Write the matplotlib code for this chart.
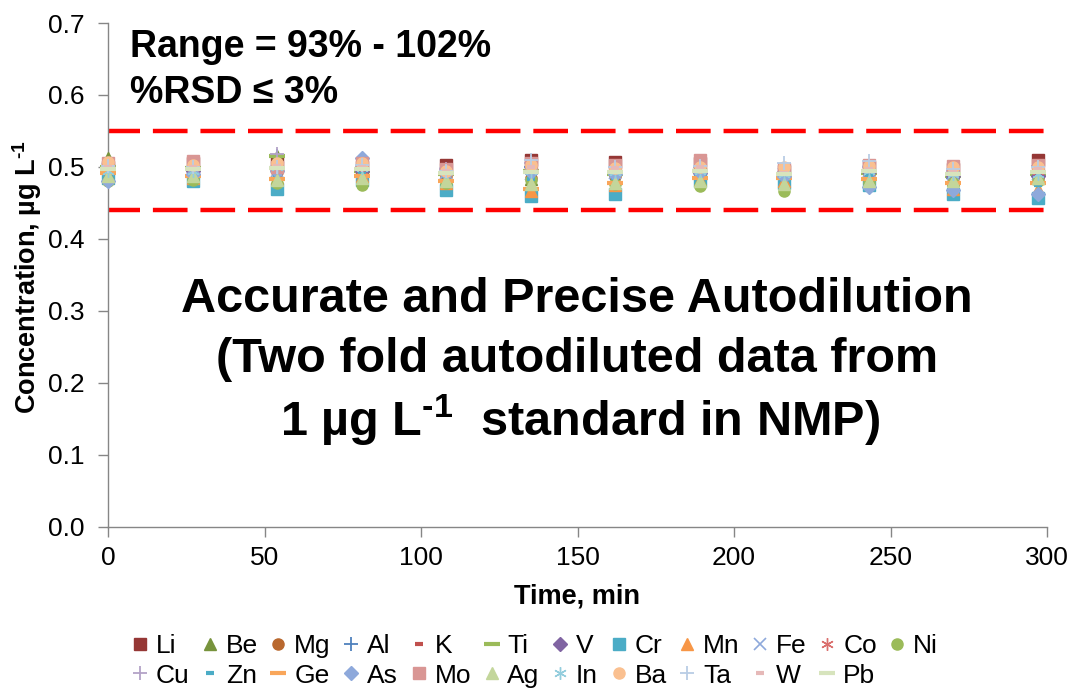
import matplotlib
matplotlib.use("Agg")
import matplotlib.pyplot as plt
from matplotlib.lines import Line2D

plt.rcParams['font.family'] = ['Liberation Sans', 'DejaVu Sans']
plt.rcParams['mathtext.fontset'] = 'custom'
plt.rcParams['mathtext.rm'] = 'Liberation Sans:bold'
plt.rcParams['mathtext.bf'] = 'Liberation Sans:bold'
plt.rcParams['mathtext.default'] = 'bf'

# ---------------- data ----------------
time_min = [0, 27, 54, 81, 108, 135, 162, 189, 216, 243, 270, 297]

elements = ["Li", "Be", "Mg", "Al", "K", "Ti", "V", "Cr", "Mn", "Fe", "Co", "Ni",
            "Cu", "Zn", "Ge", "As", "Mo", "Ag", "In", "Ba", "Ta", "W", "Pb"]

li = [0.500, 0.505, 0.508, 0.500, 0.503, 0.510, 0.507, 0.505, 0.495, 0.500, 0.497, 0.510]
be = [0.512, 0.495, 0.515, 0.500, 0.488, 0.483, 0.485, 0.490, 0.480, 0.490, 0.482, 0.485]
mg = [0.498, 0.497, 0.493, 0.495, 0.487, 0.485, 0.487, 0.492, 0.487, 0.490, 0.485, 0.485]
al = [0.495, 0.500, 0.515, 0.500, 0.490, 0.500, 0.495, 0.495, 0.490, 0.495, 0.485, 0.495]
k_ = [0.503, 0.502, 0.505, 0.502, 0.500, 0.507, 0.505, 0.503, 0.497, 0.500, 0.495, 0.505]
ti = [0.500, 0.498, 0.515, 0.495, 0.490, 0.495, 0.490, 0.495, 0.487, 0.492, 0.487, 0.490]
v_ = [0.493, 0.495, 0.497, 0.495, 0.492, 0.493, 0.493, 0.492, 0.490, 0.493, 0.488, 0.487]
cr = [0.485, 0.480, 0.470, 0.482, 0.468, 0.460, 0.463, 0.480, 0.478, 0.475, 0.463, 0.457]
mn = [0.487, 0.485, 0.485, 0.488, 0.478, 0.467, 0.475, 0.482, 0.480, 0.480, 0.470, 0.470]
fe = [0.497, 0.493, 0.495, 0.493, 0.492, 0.490, 0.492, 0.493, 0.490, 0.495, 0.490, 0.490]
co = [0.500, 0.497, 0.497, 0.495, 0.495, 0.497, 0.495, 0.497, 0.493, 0.497, 0.493, 0.495]
ni = [0.480, 0.482, 0.478, 0.475, 0.478, 0.482, 0.477, 0.473, 0.467, 0.478, 0.478, 0.480]
cu = [0.498, 0.500, 0.518, 0.502, 0.497, 0.505, 0.500, 0.500, 0.493, 0.500, 0.495, 0.502]
zn = [0.490, 0.490, 0.488, 0.490, 0.487, 0.483, 0.485, 0.490, 0.483, 0.487, 0.477, 0.475]
ge = [0.492, 0.488, 0.483, 0.488, 0.480, 0.470, 0.478, 0.485, 0.485, 0.483, 0.478, 0.478]
as_ = [0.480, 0.490, 0.495, 0.513, 0.492, 0.493, 0.490, 0.493, 0.487, 0.472, 0.468, 0.462]
mo = [0.505, 0.508, 0.500, 0.505, 0.497, 0.505, 0.503, 0.510, 0.497, 0.503, 0.502, 0.503]
ag = [0.488, 0.487, 0.482, 0.485, 0.480, 0.477, 0.478, 0.480, 0.477, 0.480, 0.480, 0.485]
in_ = [0.495, 0.495, 0.500, 0.498, 0.493, 0.495, 0.493, 0.495, 0.490, 0.495, 0.490, 0.490]
ba = [0.507, 0.503, 0.505, 0.505, 0.495, 0.503, 0.498, 0.500, 0.500, 0.502, 0.500, 0.500]
ta = [0.502, 0.500, 0.500, 0.503, 0.495, 0.510, 0.500, 0.502, 0.505, 0.508, 0.497, 0.500]
w_ = [0.500, 0.500, 0.502, 0.500, 0.495, 0.500, 0.498, 0.500, 0.492, 0.497, 0.493, 0.497]
pb = [0.497, 0.497, 0.498, 0.497, 0.492, 0.493, 0.493, 0.495, 0.490, 0.495, 0.490, 0.493]

series_values = [li, be, mg, al, k_, ti, v_, cr, mn, fe, co, ni,
                 cu, zn, ge, as_, mo, ag, in_, ba, ta, w_, pb]

upper_limit = 0.55
lower_limit = 0.44

x_ticks = [0, 50, 100, 150, 200, 250, 300]
y_ticks = [0.0, 0.1, 0.2, 0.3, 0.4, 0.5, 0.6, 0.7]

# ---------------- styles ----------------
ASTER = (6, 2, 0)
styles = {
    "Li": dict(marker='s', color='#953735', ms=8),
    "Be": dict(marker='^', color='#77933C', ms=9),
    "Mg": dict(marker='o', color='#B9682E', ms=8),
    "Al": dict(marker='+', color='#4F81BD', ms=10, mew=1.3),
    "K":  dict(marker='_', color='#C0504D', ms=6, mew=3),
    "Ti": dict(marker='_', color='#9BBB59', ms=11, mew=3),
    "V":  dict(marker='D', color='#8064A2', ms=7),
    "Cr": dict(marker='s', color='#4BACC6', ms=8),
    "Mn": dict(marker='^', color='#F79646', ms=9),
    "Fe": dict(marker='x', color='#8EA9DB', ms=8, mew=1.2),
    "Co": dict(marker=ASTER, color='#DA6F6D', ms=9, mew=1.0),
    "Ni": dict(marker='o', color='#9BBB59', ms=8),
    "Cu": dict(marker='+', color='#B3A2C7', ms=10, mew=1.3),
    "Zn": dict(marker='_', color='#4BACC6', ms=6, mew=3),
    "Ge": dict(marker='_', color='#F9A65A', ms=11, mew=3),
    "As": dict(marker='D', color='#8EA9DB', ms=7),
    "Mo": dict(marker='s', color='#D99694', ms=8),
    "Ag": dict(marker='^', color='#C3D69B', ms=9),
    "In": dict(marker=ASTER, color='#93CDDD', ms=9, mew=1.0),
    "Ba": dict(marker='o', color='#FAC090', ms=8),
    "Ta": dict(marker='+', color='#B9CDE5', ms=10, mew=1.3),
    "W":  dict(marker='_', color='#E6B9B8', ms=6, mew=3),
    "Pb": dict(marker='_', color='#D7E4BD', ms=11, mew=3),
}

fig = plt.figure(figsize=(10.75, 6.89), dpi=100)
ax = fig.add_axes([108/1075, 1-527/689, (1047-108)/1075, (527-23)/689])

for name, vals in zip(elements, series_values):
    st = styles[name]
    ax.plot(time_min, vals, linestyle='none', marker=st['marker'],
            color=st['color'], markersize=st['ms'],
            markeredgewidth=st.get('mew', 1.0),
            markeredgecolor=st['color'], clip_on=False, label=name, zorder=3)

for lim in (upper_limit, lower_limit):
    ax.plot([0, 300], [lim, lim], color='#FF0000', lw=3.2,
            linestyle=(0.6, (7.8, 2.9)), zorder=2)

ax.set_xlim(0, 300)
ax.set_ylim(0, 0.7)
ax.set_xticks(x_ticks)
ax.set_yticks(y_ticks)
ax.set_yticklabels([f"{v:.1f}" for v in y_ticks])
for s in ['top', 'right']:
    ax.spines[s].set_visible(False)
for s in ['left', 'bottom']:
    ax.spines[s].set_color('#868686')
    ax.spines[s].set_linewidth(1.0)
ax.tick_params(direction='out', length=7, width=1, color='#868686', labelsize=19)
ax.tick_params(axis='y', pad=10)
ax.tick_params(axis='x', pad=7)

fig.text(577/1075, 1-597/689, "Time, min", ha='center', va='center',
         fontsize=19.5, fontweight='bold')
fig.text(27/1075, 1-277/689, r"Concentration, µg L$^{\text{-}1}$", ha='center',
         va='center', rotation=90, fontsize=19.5, fontweight='bold')

fig.text(130/1075, 1-57/689, "Range = 93% - 102%", ha='left', va='baseline',
         fontsize=27, fontweight='bold')
fig.text(130/1075, 1-103/689, "%RSD ≤ 3%", ha='left', va='baseline',
         fontsize=27, fontweight='bold')

fig.text(577/1075, 1-300/689, "Accurate and Precise Autodilution", ha='center',
         va='center', fontsize=35, fontweight='bold')
fig.text(577/1075, 1-360/689, "(Two fold autodiluted data from", ha='center',
         va='center', fontsize=35, fontweight='bold')
fig.text(580/1075, 1-420/689, r"1 µg L$^{\text{-}1}$  standard in NMP)", ha='center',
         va='center', fontsize=35, fontweight='bold')

# legend: row-major order in 2 rows of 12 columns
row1 = elements[:12]
row2 = elements[12:]
order = []
for i in range(12):
    order.append(row1[i])
    if i < len(row2):
        order.append(row2[i])
leg_handles = []
for n in order:
    st = styles[n]
    leg_handles.append(Line2D([], [], linestyle='none', marker=st['marker'],
                              color=st['color'], markersize=st['ms'],
                              markeredgewidth=st.get('mew', 1.0)))
fig.legend(leg_handles, order, ncol=12, loc='center',
           bbox_to_anchor=(535/1075, 1-661/689), frameon=False, fontsize=19,
           handlelength=0.6, handletextpad=0.3, columnspacing=0.48,
           labelspacing=0.2, borderpad=0)

fig.savefig("out.png", dpi=100)
